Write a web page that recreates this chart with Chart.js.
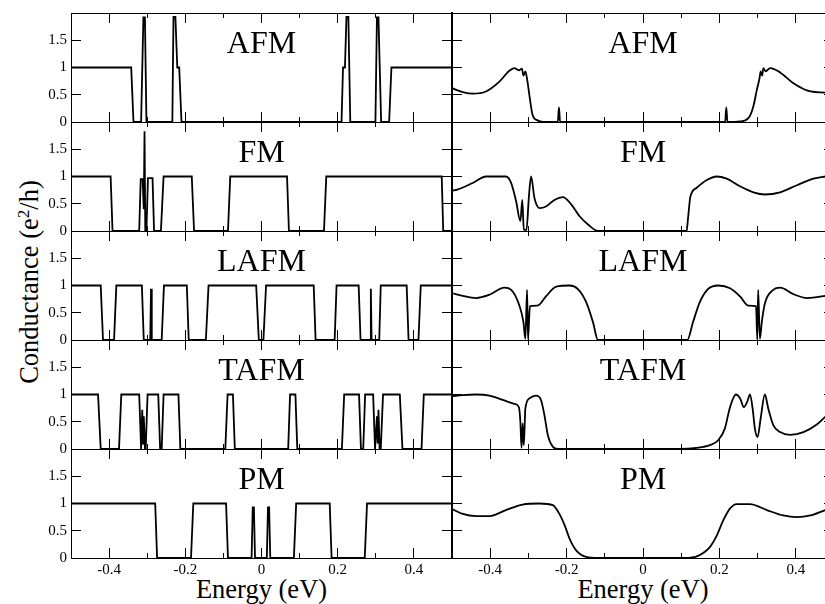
<!DOCTYPE html>
<html>
<head>
<meta charset="utf-8">
<script src="https://cdn.jsdelivr.net/npm/chart.js@4.4.1/dist/chart.umd.min.js"></script>
<style>
  html, body { margin: 0; padding: 0; background: #fff; }
  body { width: 825px; height: 604px; overflow: hidden; position: relative; }
  canvas { position: absolute; left: 0; top: 0; }
  .lbl { position: absolute; font-family: 'Liberation Serif', 'Times New Roman', serif; color: #000; text-align: center; white-space: nowrap; }
  .panel { width: 200px; height: 32px; font-size: 32px; line-height: 32px; }
  .xtitle { width: 200px; font-size: 26.5px; line-height: 26px; top: 576px; }
  .ytitle { width: 300px; height: 30px; font-size: 26.5px; line-height: 30px; left: -121px; top: 267px; transform: rotate(-90deg); }
  sup { font-size: 0.65em; line-height: 0; vertical-align: 0.55em; }
</style>
</head>
<body>
<div class="lbl ytitle">Conductance (e<sup>2</sup>/h)</div>
<div class="lbl xtitle" style="left: 161.5px;">Energy (eV)</div>
<div class="lbl xtitle" style="left: 543px;">Energy (eV)</div>
<script>
// axis ranges and ticks
const energyRange = [-0.5, 0.5];
const gRange = [0, 2];
const xMajorTicks = [-0.4, -0.2, 0, 0.2, 0.4];
const xTickLabels = ['-0.4', '-0.2', '0', '0.2', '0.4'];
const xMinorTicks = [-0.3, -0.1, 0.1, 0.3];
const yTicks = [0, 0.5, 1, 1.5];
const yTickLabels = ['0', '0.5', '1', '1.5'];
const phases = ['AFM', 'FM', 'LAFM', 'TAFM', 'PM'];

// left column (step-like conductance)
const afmLeftE = [-0.5, -0.342, -0.336, -0.316, -0.310, -0.306, -0.302, -0.234, -0.231, -0.226, -0.221, -0.216, -0.210,
  0.210, 0.214, 0.219, 0.223, 0.228, 0.233, 0.299, 0.303, 0.307, 0.314, 0.335, 0.341, 0.5];
const afmLeftG = [1, 1, 0, 0, 1.92, 1.92, 0, 0, 1.93, 1.93, 1, 1, 0,
  0, 1, 1, 1.93, 1.93, 0, 0, 1.92, 1.92, 0, 0, 1, 1];

const fmLeftE = [-0.5, -0.396, -0.391, -0.321, -0.317, -0.312, -0.309, -0.307, -0.305, -0.302, -0.298, -0.286, -0.282,
  -0.264, -0.257, -0.183, -0.177, -0.088, -0.082, 0.067, 0.072, 0.164, 0.170, 0.473, 0.477, 0.5];
const fmLeftG = [1, 1, 0, 0, 0.95, 0.95, 0.4, 1.83, 0, 0, 0.97, 0.97, 0,
  0, 1, 1, 0, 0, 1, 1, 0, 0, 1, 1, 0, 0];

const lafmLeftE = [-0.5, -0.422, -0.416, -0.387, -0.381, -0.314, -0.309, -0.292, -0.290, -0.288, -0.262, -0.256,
  -0.196, -0.191, -0.146, -0.139, -0.014, -0.007, 0.005, 0.012, 0.137, 0.142, 0.192, 0.197, 0.255, 0.260,
  0.285, 0.287, 0.289, 0.309, 0.313, 0.381, 0.386, 0.412, 0.418, 0.5];
const lafmLeftG = [1, 1, 0, 0, 1, 1, 0, 0, 0.94, 0, 0, 1,
  1, 0, 0, 1, 1, 0, 0, 1, 1, 0, 0, 1, 1, 0,
  0, 0.94, 0, 0, 1, 1, 0, 0, 1, 1];

const tafmLeftE = [-0.5, -0.429, -0.422, -0.374, -0.368, -0.321, -0.316, -0.313, -0.311, -0.309, -0.306, -0.304, -0.299,
  -0.271, -0.266, -0.262, -0.257, -0.218, -0.213, -0.095, -0.089, -0.075, -0.070, 0.070, 0.075, 0.089, 0.094,
  0.211, 0.217, 0.256, 0.261, 0.267, 0.272, 0.293, 0.298, 0.303, 0.305, 0.307, 0.310, 0.313, 0.319,
  0.363, 0.370, 0.420, 0.426, 0.5];
const tafmLeftG = [1, 1, 0, 0, 1, 1, 0, 0.72, 0.1, 0.6, 0, 0, 1,
  1, 0, 0, 1, 1, 0, 0, 1, 1, 0, 0, 1, 1, 0,
  0, 1, 1, 0, 0, 1, 1, 0, 0.6, 0.1, 0.72, 0, 0, 1,
  1, 0, 0, 1, 1];

const pmLeftE = [-0.5, -0.279, -0.274, -0.185, -0.179, -0.093, -0.088, -0.026, -0.023, -0.020, -0.017,
  0.014, 0.017, 0.020, 0.023, 0.085, 0.091, 0.179, 0.184, 0.271, 0.277, 0.5];
const pmLeftG = [1, 1, 0, 0, 1, 1, 0, 0, 0.93, 0.93, 0,
  0, 0.93, 0.93, 0, 0, 1, 1, 0, 0, 1, 1];

// right column (smooth conductance)
const afmRightE = [-0.5, -0.472, -0.446, -0.411, -0.376, -0.350, -0.337, -0.324, -0.317, -0.313,
  -0.308, -0.303, -0.297, -0.289, -0.276, -0.262, -0.223, -0.220, -0.217, -0.205,
  0.205, 0.215, 0.218, 0.221, 0.254, 0.276, 0.289, 0.298, 0.305, 0.308,
  0.312, 0.315, 0.321, 0.333, 0.359, 0.394, 0.429, 0.477, 0.5];
const afmRightG = [0.62, 0.55, 0.52, 0.56, 0.74, 0.94, 0.99, 0.95, 0.98, 0.85,
  0.93, 0.77, 0.47, 0.13, 0.03, 0, 0, 0.27, 0, 0,
  0, 0, 0.27, 0, 0.01, 0.07, 0.29, 0.59, 0.80, 0.93,
  0.85, 0.99, 0.93, 0.99, 0.91, 0.71, 0.58, 0.54, 0.56];

const fmRightE = [-0.5, -0.486, -0.446, -0.411, -0.359, -0.345, -0.332, -0.321, -0.316, -0.312,
  -0.305, -0.299, -0.293, -0.284, -0.271, -0.254, -0.232, -0.210, -0.188, -0.166, -0.144, -0.118,
  0.114, 0.118, 0.124, 0.140, 0.166, 0.193, 0.219, 0.254, 0.289, 0.319, 0.359, 0.403, 0.446, 0.477, 0.5];
const fmRightG = [0.74, 0.76, 0.88, 1.0, 1.0, 0.88, 0.54, 0.18, 0.57, 0.02,
  0.02, 0.60, 1.0, 0.6, 0.42, 0.45, 0.57, 0.62, 0.49, 0.27, 0.12, 0,
  0, 0.24, 0.63, 0.79, 0.93, 1.0, 0.96, 0.82, 0.71, 0.67, 0.71, 0.84, 0.96, 1.0, 1.02];

const lafmRightE = [-0.5, -0.472, -0.437, -0.402, -0.363, -0.345, -0.324, -0.313, -0.308, -0.3035,
  -0.301, -0.296, -0.276, -0.254, -0.227, -0.192, -0.171, -0.149, -0.131, -0.118,
  0.116, 0.131, 0.149, 0.171, 0.197, 0.228, 0.254, 0.276, 0.296, 0.299,
  0.3015, 0.306, 0.311, 0.319, 0.341, 0.359, 0.394, 0.429, 0.477, 0.5];
const lafmRightG = [0.86, 0.81, 0.77, 0.83, 0.96, 0.92, 0.64, 0.33, 0.02, 0.92,
  0.02, 0.62, 0.63, 0.80, 0.98, 1.0, 0.94, 0.70, 0.33, 0,
  0, 0.33, 0.70, 0.94, 1.0, 0.95, 0.80, 0.63, 0.62, 0.02,
  0.92, 0.02, 0.33, 0.67, 0.92, 0.96, 0.84, 0.77, 0.81, 0.84];

const tafmRightE = [-0.5, -0.472, -0.437, -0.402, -0.367, -0.337, -0.325, -0.321, -0.318, -0.315,
  -0.312, -0.308, -0.297, -0.280, -0.267, -0.258, -0.249, -0.236, -0.223,
  0.096, 0.140, 0.175, 0.197, 0.214, 0.228, 0.243, 0.254, 0.264, 0.273, 0.280,
  0.287, 0.293, 0.300, 0.308, 0.319, 0.328, 0.341, 0.359, 0.385, 0.420, 0.455, 0.477, 0.5];
const tafmRightG = [0.97, 0.99, 1.0, 0.98, 0.90, 0.83, 0.77, 0.50, 0.02, 0.47,
  0.07, 0.74, 0.93, 0.98, 0.90, 0.62, 0.25, 0.04, 0,
  0, 0.02, 0.07, 0.16, 0.37, 0.77, 1.0, 0.93, 0.77, 0.87, 1.0,
  0.74, 0.37, 0.22, 0.56, 1.0, 0.74, 0.44, 0.31, 0.26, 0.31, 0.45, 0.59, 0.72];

const pmRightE = [-0.5, -0.472, -0.437, -0.402, -0.359, -0.315, -0.271, -0.236, -0.219, -0.205,
  -0.192, -0.175, -0.149, -0.118, 0.109, 0.144, 0.175, 0.193, 0.210, 0.228,
  0.245, 0.280, 0.324, 0.367, 0.403, 0.438, 0.477, 0.5];
const pmRightG = [0.90, 0.81, 0.77, 0.77, 0.88, 0.98, 1.0, 0.97, 0.81, 0.60,
  0.35, 0.14, 0.02, 0, 0, 0.04, 0.20, 0.41, 0.69, 0.91,
  0.99, 0.99, 0.88, 0.78, 0.75, 0.78, 0.88, 0.93];

const leftCurves = [[afmLeftE, afmLeftG], [fmLeftE, fmLeftG], [lafmLeftE, lafmLeftG], [tafmLeftE, tafmLeftG], [pmLeftE, pmLeftG]];
const rightCurves = [[afmRightE, afmRightG], [fmRightE, fmRightG], [lafmRightE, lafmRightG], [tafmRightE, tafmRightG], [pmRightE, pmRightG]];

// page geometry
const CW = 835, CH = 604;
const colEdges = [[71, 452], [452, 834]];
const rowEdges = [13, 122, 231, 340, 449, 558];
const serif = "'Liberation Serif', 'Times New Roman', serif";
const tickFont = { family: serif, size: 15 };

// each axis gets a fixed size (0 unless it carries labels), no extra padding
function fixedFit(size) {
  return scale => {
    if (scale.isHorizontal()) scale.height = size; else scale.width = size;
    scale.paddingLeft = scale.paddingRight = scale.paddingTop = scale.paddingBottom = 0;
  };
}

function fixedTicks(values) {
  return scale => { scale.ticks = values.map(v => ({ value: v })); };
}

// inward tick marks via negative tick length
function edgeAxis(position, values, len, showBorder, borderWidth, labels, size) {
  const horiz = position === 'top' || position === 'bottom';
  return {
    type: 'linear',
    axis: horiz ? 'x' : 'y',
    position: position,
    weight: labels ? 1 : 0,
    min: horiz ? energyRange[0] : gRange[0],
    max: horiz ? energyRange[1] : gRange[1],
    afterBuildTicks: fixedTicks(values),
    afterFit: fixedFit(labels ? size : 0),
    ticks: {
      display: !!labels,
      callback: (v, i) => labels ? labels[i] : '',
      autoSkip: false,
      maxRotation: 0,
      padding: horiz ? 13 : 14,
      color: '#000',
      font: tickFont
    },
    grid: { drawOnChartArea: false, drawTicks: true, tickLength: -len, tickColor: '#000', tickWidth: 1 },
    border: { display: showBorder, color: '#000', width: borderWidth }
  };
}

function drawPanel(row, col, E, G) {
  const canvas = document.createElement('canvas');
  canvas.width = CW;
  canvas.height = CH;
  document.body.appendChild(canvas);
  const [x0, x1] = colEdges[col];
  const y0 = rowEdges[row], y1 = rowEdges[row + 1];
  const xLabels = row === 4 ? xTickLabels : null;
  const yLabels = col === 0 ? yTickLabels : null;
  const padLeft = yLabels ? 0 : x0;
  const padBottom = xLabels ? 0 : CH - y1;

  new Chart(canvas, {
    type: 'line',
    data: {
      datasets: [{
        data: E.map((e, i) => ({ x: e, y: G[i] })),
        borderColor: '#000',
        borderWidth: 1.8,
        pointRadius: 0,
        tension: 0,
        cubicInterpolationMode: col === 1 ? 'monotone' : 'default',
        fill: false
      }]
    },
    options: {
      responsive: false,
      animation: false,
      events: [],
      layout: { padding: { left: padLeft, right: CW - x1, top: y0, bottom: padBottom } },
      plugins: { legend: { display: false }, tooltip: { enabled: false } },
      scales: {
        x: edgeAxis('bottom', xMajorTicks, 10, true, 1, xLabels, CH - y1),
        xm: edgeAxis('bottom', xMinorTicks, 5, false, 1, null, 0),
        xt: edgeAxis('top', xMajorTicks, 10, true, 1, null, 0),
        xtm: edgeAxis('top', xMinorTicks, 5, false, 1, null, 0),
        y: edgeAxis('left', yTicks, 10, true, col === 1 ? 2 : 1, yLabels, x0),
        yr: edgeAxis('right', yTicks, 10, true, 1, null, 0)
      }
    }
  });

  const lbl = document.createElement('div');
  lbl.className = 'lbl panel';
  lbl.textContent = phases[row];
  lbl.style.left = ((x0 + x1) / 2 - 100) + 'px';
  lbl.style.top = (y0 + 13) + 'px';
  document.body.appendChild(lbl);
}

for (let r = 0; r < 5; r++) {
  drawPanel(r, 0, leftCurves[r][0], leftCurves[r][1]);
  drawPanel(r, 1, rightCurves[r][0], rightCurves[r][1]);
}
</script>
</body>
</html>
